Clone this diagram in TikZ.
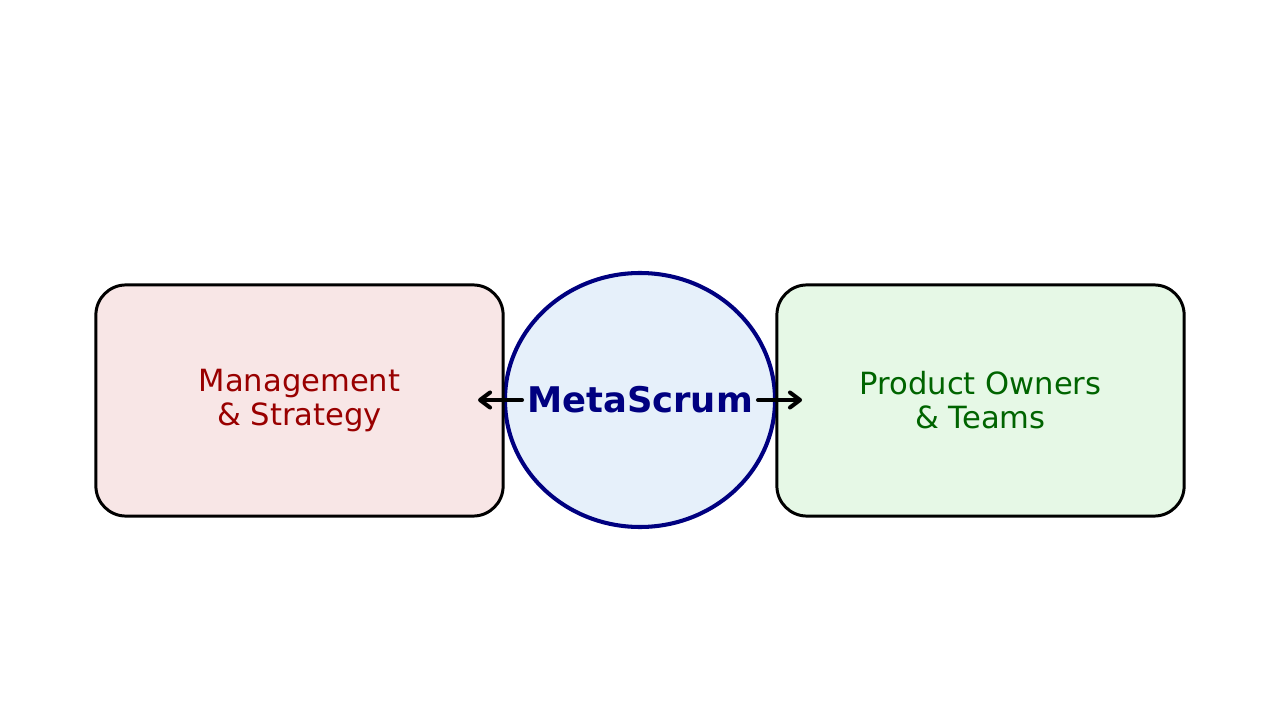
\documentclass[tikz,border=0pt]{standalone}
\usepackage{fontspec}
\setmainfont{DejaVu Sans}
\usetikzlibrary{arrows.meta}
\definecolor{lfill}{HTML}{F8E6E6}
\definecolor{rfill}{HTML}{E6F8E6}
\definecolor{cfill}{HTML}{E6F0FA}
\definecolor{ltext}{HTML}{990000}
\definecolor{rtext}{HTML}{006400}
\definecolor{navy}{HTML}{000080}
\begin{document}
\begin{tikzpicture}[x=0.01cm,y=-0.01cm,
  group/.style={draw=black, line width=0.85pt, rounded corners=0.3cm, minimum width=4.07cm, minimum height=2.31cm, align=center, font=\fontsize{8.7}{9.7}\selectfont, inner sep=0pt},
  link/.style={line width=1.15pt, line cap=round, -{Straight Barb[length=0.1cm,width=0.15cm,round]}}]
\useasboundingbox (0,0) rectangle (1280,719);
\draw[draw=navy, fill=cfill, line width=1.15pt] (640,400) ellipse [x radius=135, y radius=127];
\node[font=\bfseries\fontsize{10.05}{12}\selectfont, text=navy, inner sep=0pt] (meta) at (640,400) {MetaScrum};
\node[group, fill=lfill, text=ltext] (mgmt) at (299.5,400.5) {Management\\\& Strategy};
\node[group, fill=rfill, text=rtext] (po) at (980.5,400.5) {Product Owners\\\& Teams};
\coordinate (la) at (522,400);
\coordinate (lt) at (478,400);
\coordinate (ra) at (758,400);
\coordinate (rt) at (802,400);
\draw[link] (la) -- (lt);
\draw[link] (ra) -- (rt);
\end{tikzpicture}
\end{document}
